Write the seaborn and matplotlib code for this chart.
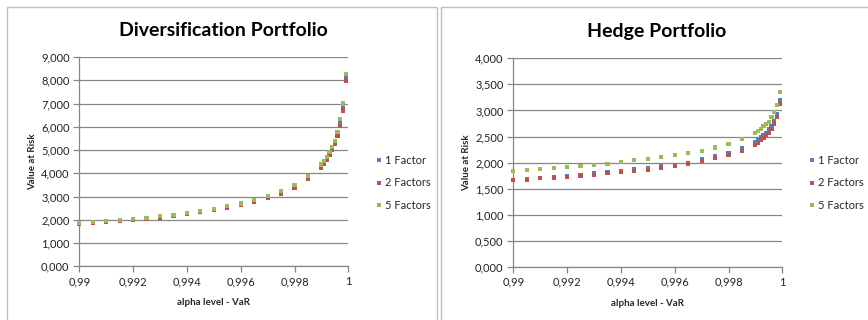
import matplotlib
matplotlib.use("Agg")
import matplotlib.pyplot as plt
import pandas as pd
import seaborn as sns
from matplotlib.ticker import FuncFormatter, MultipleLocator
from matplotlib.patches import Rectangle

# Confidence levels of the VaR estimates
alpha_levels = [0.99, 0.9905, 0.991, 0.9915, 0.992, 0.9925, 0.993, 0.9935, 0.994,
                0.9945, 0.995, 0.9955, 0.996, 0.9965, 0.997, 0.9975, 0.998, 0.9985,
                0.999, 0.9991, 0.9992, 0.9993, 0.9994, 0.9995, 0.9996, 0.9997,
                0.9998, 0.9999]

series_names = ["1 Factor", "2 Factors", "5 Factors"]
series_colors = ["#4F81BD", "#C0504D", "#9BBB59"]

# Diversification portfolio VaR
div_1f = [1.830, 1.875, 1.920, 1.960, 2.010, 2.060, 2.120, 2.190, 2.270, 2.355,
          2.450, 2.550, 2.670, 2.810, 2.975, 3.180, 3.435, 3.815,
          4.320, 4.470, 4.640, 4.860, 5.070, 5.330, 5.700, 6.160, 6.850, 8.130]
div_2f = [1.810, 1.850, 1.895, 1.935, 1.980, 2.030, 2.090, 2.160, 2.240, 2.320,
          2.420, 2.520, 2.640, 2.780, 2.930, 3.130, 3.380, 3.750,
          4.250, 4.410, 4.570, 4.790, 5.000, 5.250, 5.600, 6.030, 6.700, 7.990]
div_5f = [1.857, 1.900, 1.950, 1.990, 2.040, 2.090, 2.150, 2.220, 2.300, 2.390,
          2.480, 2.580, 2.700, 2.840, 3.020, 3.230, 3.490, 3.880,
          4.380, 4.530, 4.700, 4.930, 5.140, 5.400, 5.790, 6.320, 7.000, 8.270]

# Hedge portfolio VaR
hedge_1f = [1.670, 1.685, 1.712, 1.725, 1.740, 1.755, 1.796, 1.828, 1.847, 1.872,
            1.904, 1.930, 1.962, 2.000, 2.064, 2.128, 2.191, 2.274,
            2.402, 2.447, 2.497, 2.536, 2.574, 2.638, 2.700, 2.804, 2.932, 3.200]
hedge_2f = [1.660, 1.675, 1.700, 1.712, 1.725, 1.740, 1.760, 1.795, 1.815, 1.835,
            1.855, 1.900, 1.940, 1.985, 2.030, 2.085, 2.145, 2.230,
            2.338, 2.383, 2.428, 2.472, 2.523, 2.574, 2.638, 2.740, 2.881, 3.118]
hedge_5f = [1.840, 1.855, 1.880, 1.900, 1.920, 1.940, 1.960, 1.980, 2.020, 2.045,
            2.065, 2.105, 2.145, 2.180, 2.230, 2.290, 2.365, 2.450,
            2.563, 2.607, 2.651, 2.696, 2.740, 2.785, 2.869, 2.977, 3.105, 3.360]


def long_frame(values):
    rows = []
    for name, vals in zip(series_names, values):
        for a, v in zip(alpha_levels, vals):
            rows.append({"alpha": a, "VaR": v, "model": name})
    return pd.DataFrame(rows)


sns.set_style("white")
plt.rcParams["font.family"] = ["Lato", "DejaVu Sans"]

W, H = 868, 320
fig = plt.figure(figsize=(W / 100, H / 100), dpi=100)
fig.patch.set_facecolor("white")

# chart frames
for x0, x1 in [(7, 437), (441, 880)]:
    fig.patches.append(Rectangle((x0 / W, -0.1), (x1 - x0) / W, (H - 7) / H + 0.1,
                                 transform=fig.transFigure, fill=False,
                                 edgecolor="#BFBFBF", linewidth=1.0))

grid_col = "#868686"
palette = dict(zip(series_names, series_colors))

charts = [
    dict(title="Diversification Portfolio", data=[div_1f, div_2f, div_5f],
         rect=(79.3, 57.0, 348.3, 266.3), ymax=9.0, ystep=1.0,
         title_x=223, legend_x=371),
    dict(title="Hedge Portfolio", data=[hedge_1f, hedge_2f, hedge_5f],
         rect=(513.3, 58.3, 782.3, 267.0), ymax=4.0, ystep=0.5,
         title_x=657, legend_x=804),
]

for ch in charts:
    x0, y0, x1, y1 = ch["rect"]
    ax = fig.add_axes([x0 / W, 1 - y1 / H, (x1 - x0) / W, (y1 - y0) / H])
    df = long_frame(ch["data"])
    sns.scatterplot(data=df, x="alpha", y="VaR", hue="model", hue_order=series_names,
                    palette=palette, marker="s", s=9, linewidth=0, ax=ax,
                    clip_on=False, zorder=3)

    ax.set_xlim(0.99, 1.0)
    ax.set_ylim(0, ch["ymax"])
    ax.xaxis.set_major_locator(MultipleLocator(0.002))
    ax.yaxis.set_major_locator(MultipleLocator(ch["ystep"]))
    ax.xaxis.set_major_formatter(FuncFormatter(lambda v, p: ("%g" % round(v, 4)).replace(".", ",")))
    ax.yaxis.set_major_formatter(FuncFormatter(lambda v, p: ("%.3f" % v).replace(".", ",")))
    ax.grid(axis="y", color=grid_col, linewidth=0.9)
    ax.set_axisbelow(True)
    for side in ["top", "right"]:
        ax.spines[side].set_visible(False)
    for side in ["left", "bottom"]:
        ax.spines[side].set_color(grid_col)
        ax.spines[side].set_linewidth(0.9)
    ax.tick_params(axis="both", which="major", direction="out", length=4, width=0.9,
                   color=grid_col, labelsize=8, labelcolor="#222222", pad=3,
                   bottom=True, left=True)
    ax.set_xlabel("alpha level - VaR", fontsize=7, fontweight="bold", labelpad=8)
    ax.set_ylabel("Value at Risk", fontsize=7, fontweight="bold", labelpad=3)

    fig.text(ch["title_x"] / W, 1 - 31 / H, ch["title"], ha="center", va="center",
             fontsize=14, fontweight="bold", color="black")

    handles, labels = ax.get_legend_handles_labels()
    ax.legend(handles, labels, loc="center left",
              bbox_to_anchor=(ch["legend_x"] / W, 1 - 183 / H),
              bbox_transform=fig.transFigure, frameon=False, fontsize=8,
              handlelength=0.4, handletextpad=0.4, labelspacing=1.05,
              markerscale=1.0, borderpad=0)

fig.savefig("out.png", dpi=100, facecolor="white")
